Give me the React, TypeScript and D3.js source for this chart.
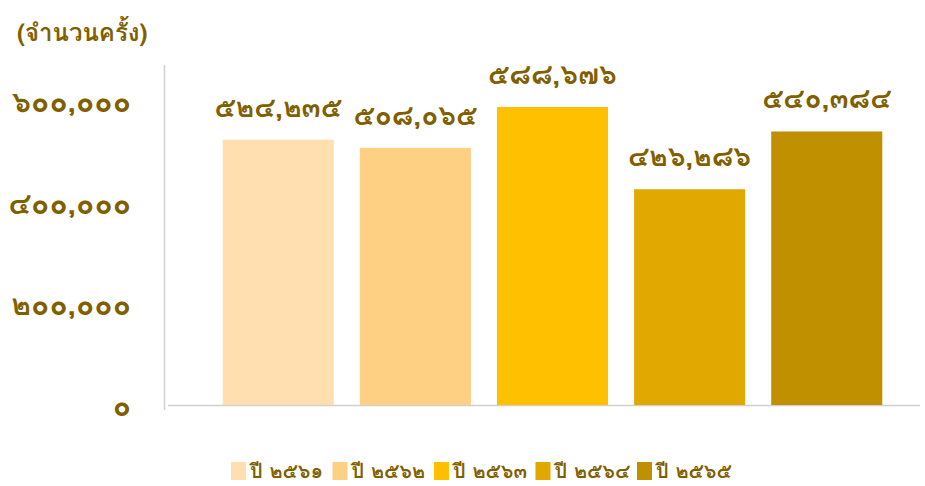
import React from "react";
import * as d3 from "d3";

const years = ["ปี ๒๕๖๑", "ปี ๒๕๖๒", "ปี ๒๕๖๓", "ปี ๒๕๖๔", "ปี ๒๕๖๕"];
const values = [524235, 508065, 588676, 426286, 540384];
const colors = ["#FFDFB0", "#FED084", "#FFC000", "#E0A800", "#C09000"];
const yTicks = [0, 200000, 400000, 600000];
const unitLabel = "(จำนวนครั้ง)";

const thaiDigits = "๐๑๒๓๔๕๖๗๘๙";
const toThai = (n: number) =>
  d3.format(",")(n).replace(/[0-9]/g, (d) => thaiDigits[+d]);

const TEXT = "#7F6000";
const FONT = "Loma, 'Noto Sans', sans-serif";

export default function App() {
  const W = 925, H = 486;
  const y = d3.scaleLinear().domain([0, 600000]).range([405, 101.3]);
  const x = d3.scaleBand().domain(years).range([209, 896]).paddingInner(0.19).paddingOuter(0.1);
  return (
    <svg width={W} height={H} style={{ position: "absolute", left: 0, top: 0 }} fontFamily={FONT}>
      <text x={17} y={41} fill={TEXT} fontSize={24} fontWeight="bold">{unitLabel}</text>
      <line x1={164.5} x2={164.5} y1={65} y2={410} stroke="#D0D0D0" strokeWidth={1.5} />
      <line x1={168} x2={920} y1={405.5} y2={405.5} stroke="#D0D0D0" strokeWidth={1.5} />
      {yTicks.map((t) => (
        <text key={t} x={131} y={y(t) + 11} textAnchor="end" fill={TEXT} fontSize={30} fontWeight="bold">
          {toThai(t)}
        </text>
      ))}
      {years.map((yr, i) => (
        <g key={yr}>
          <rect x={x(yr)} y={y(values[i])} width={x.bandwidth()} height={y(0) - y(values[i])} fill={colors[i]} />
          <text x={(x(yr) as number) + x.bandwidth() / 2} y={y(values[i]) - 23} textAnchor="middle" fill={TEXT} fontSize={28} fontWeight="bold">
            {toThai(values[i])}
          </text>
        </g>
      ))}
      {years.map((yr, i) => {
        const lx = 231 + i * 101.5;
        return (
          <g key={"l" + yr}>
            <rect x={lx} y={462} width={15} height={18} fill={colors[i]} />
            <text x={lx + 19} y={478} fill={TEXT} fontSize={20} fontWeight="bold">{yr}</text>
          </g>
        );
      })}
    </svg>
  );
}
